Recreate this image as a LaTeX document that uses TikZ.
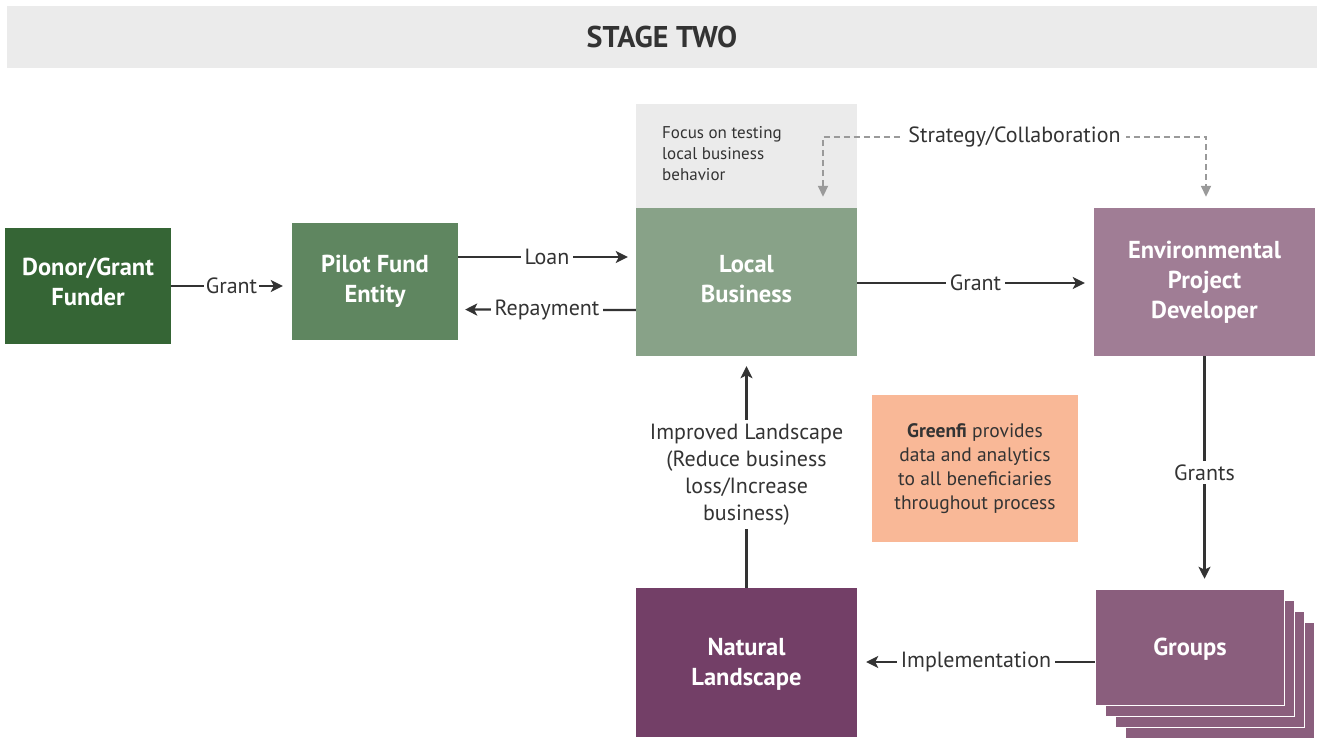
\documentclass[tikz,border=0pt]{standalone}
\usepackage{fontspec}
\setmainfont{PT Sans}
\usetikzlibrary{arrows.meta,calc}
\definecolor{hdr}{HTML}{EBEBEB}
\definecolor{txt}{HTML}{333333}
\definecolor{cdonor}{HTML}{356535}
\definecolor{cpilot}{HTML}{5F8660}
\definecolor{clocal}{HTML}{88A288}
\definecolor{cfocus}{HTML}{EBEBEB}
\definecolor{cepd}{HTML}{A07D95}
\definecolor{cgreen}{HTML}{F9B897}
\definecolor{cnat}{HTML}{733F67}
\definecolor{cgrp}{HTML}{8A5E7D}
\definecolor{dashc}{HTML}{9A9A9A}
\tikzset{
  box/.style={rectangle, inner sep=0pt, text=white, align=center,
    font=\fontsize{24.5}{30}\selectfont\bfseries},
  arr/.style={draw=txt, line width=2.2pt, -{Stealth[length=12pt,width=12pt,inset=3pt]}},
  lbl/.style={fill=white, text=txt, inner sep=4pt, font=\fontsize{22}{27}\selectfont},
  dashline/.style={draw=dashc, line width=1.8pt, dash pattern=on 6pt off 4pt,
    {Triangle[length=11pt,width=10pt]}-{Triangle[length=11pt,width=10pt]}},
}
\begin{document}
\begin{tikzpicture}[x=1pt,y=-1pt]
\useasboundingbox (0,0) rectangle (1317,738);
% header
\node[fill=hdr, minimum width=1310pt, minimum height=62pt, inner sep=0pt,
  text=txt, font=\fontsize{30}{34}\selectfont\bfseries] (hdr) at (662,37) {STAGE TWO};
% boxes
\node[box, fill=cdonor, minimum width=166pt, minimum height=116pt] (donor) at (88,286) {Donor/Grant\\Funder\rule[-8pt]{0pt}{1pt}};
\node[box, fill=cpilot, minimum width=166pt, minimum height=117pt] (pilot) at (375,281.5) {Pilot Fund\\Entity};
\node[fill=cfocus, minimum width=221pt, minimum height=104pt, inner sep=0pt] (focus) at (746.5,156) {};
\node[anchor=north west, align=left, text=txt, inner sep=0pt,
  font=\fontsize{17}{21}\selectfont] (focustxt) at (662,126) {Focus on testing\\local business\\behavior};
\node[box, fill=clocal, minimum width=221pt, minimum height=148pt] (local) at (746.5,282) {Local\\Business\rule[-6pt]{0pt}{1pt}};
\node[box, fill=cepd, minimum width=221pt, minimum height=148pt] (epd) at (1204.5,282) {Environmental\\Project\\Developer};
\node[fill=cgreen, minimum width=206pt, minimum height=147pt, inner sep=0pt, text=txt, align=center,
  font=\fontsize{19.5}{24}\selectfont] (greenfi) at (975,468.5) {\textbf{Greenfi} provides\\data and analytics\\to all beneficiaries\\throughout process};
\node[box, fill=cnat, minimum width=221pt, minimum height=149pt] (nat) at (746.5,662.5) {\rule{0pt}{21pt}Natural\\Landscape};
% groups stack
\foreach \i in {3,2,1} {
  \node[fill=cgrp, draw=white, line width=1.5pt, minimum width=189pt, minimum height=116pt, inner sep=0pt]
    (g\i) at ({1190+10*\i},{647.5+11*\i}) {};
}
\node[box, fill=cgrp, draw=white, line width=1.5pt, minimum width=189pt, minimum height=116pt] (groups) at (1190,647.5) {\rule{0pt}{20pt}Groups};
% connectors
\draw[arr, shorten >=9pt] (donor.east) -- node[lbl, inner sep=2pt] {Grant} (pilot.west |- donor.east);
\draw[arr, shorten >=8pt] ($(pilot.east)+(0,-24.5)$) -- node[lbl] {Loan} ($(local.west)+(0,-25)$);
\draw[arr, shorten >=7pt] ($(local.west)+(0,28)$) -- node[lbl] {Repayment} ($(pilot.east)+(0,28)$);
\draw[arr, shorten >=9pt] ($(local.east)+(0,1)$) -- node[lbl] {Grant} ($(epd.west)+(0,1)$);
\draw[arr, shorten >=10pt] (epd.south) -- node[lbl] {Grants} (epd.south |- groups.north);
\draw[arr, shorten >=9pt] ($(groups.west)+(0,14.5)$) -- node[lbl] {Implementation} (nat.east |- {$(groups.west)+(0,14.5)$});
\draw[arr, shorten >=10pt] (nat.north) -- node[lbl, align=center, pos=0.49] {Improved Landscape\\(Reduce business\\loss/Increase\\business)} (local.south);
% strategy dashed
\coordinate (s1) at ($(local.north)+(76.5,-11)$);
\coordinate (s2) at ($(epd.north)+(1.5,-11)$);
\coordinate (s1t) at ($(s1)+(0,-60)$);
\coordinate (s2t) at ($(s2)+(0,-60)$);
\draw[dashline] (s1) -- (s1t) -- node[lbl, inner sep=5pt] {Strategy/Collaboration} (s2t) -- (s2);
\end{tikzpicture}
\end{document}
